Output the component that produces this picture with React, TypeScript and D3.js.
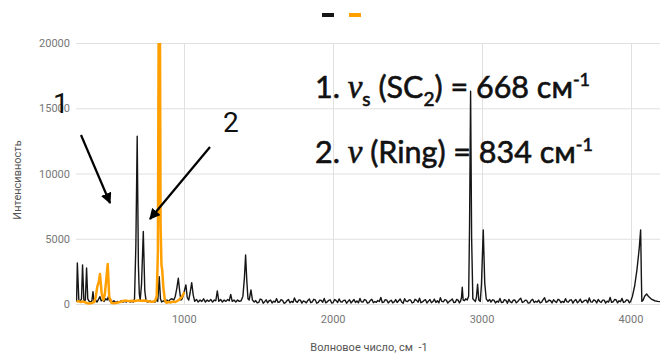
import React, {useRef, useEffect} from 'react'
import * as d3 from 'd3'

const W = 660
const H = 356

const xTicks = [1000, 2000, 3000, 4000]
const yTicks = [0, 5000, 10000, 15000, 20000]
const seriesColors = ['#161616', '#ff9f00']
const xTitle = 'Волновое число, см  -1'
const yTitle = 'Интенсивность'

// black spectrum, [wavenumber, intensity]
const blackLow: [number, number][] = [
  [277, 200], [282, 3150], [292, 300], [300, 200], [310, 400], [317, 3000], [326, 250],
  [336, 300], [344, 2760], [352, 400], [362, 200], [372, 150], [380, 250], [387, 950],
  [394, 200], [404, 300], [414, 150], [424, 350], [434, 560], [442, 250], [452, 300],
  [462, 200], [472, 400], [482, 300], [490, 560], [498, 250], [508, 300], [518, 150],
  [528, 250], [540, 100], [552, 200], [564, 150], [576, 250], [588, 150], [600, 200],
  [612, 150], [624, 250], [636, 150], [648, 200], [658, 150], [666, 400], [675, 4500],
  [684, 12850], [692, 3000], [698, 800], [704, 300], [713, 1500], [725, 5550], [735, 1000],
  [744, 200], [756, 150], [768, 250], [780, 150], [792, 200], [804, 150], [814, 300],
  [822, 200], [832, 2100], [840, 400], [848, 150], [860, 250], [872, 150], [884, 300],
  [896, 200], [906, 350], [918, 400], [930, 300], [940, 600], [950, 1200], [960, 1970],
  [970, 900], [978, 300], [986, 400], [996, 800], [1011, 1460], [1020, 500], [1030, 300],
  [1040, 900], [1050, 1640], [1060, 700], [1070, 200], [1082, 350], [1094, 150], [1106, 300],
  [1118, 200], [1130, 400], [1142, 150], [1154, 300], [1166, 200], [1178, 350], [1190, 150],
  [1202, 300], [1212, 250], [1222, 1000], [1232, 200], [1244, 350], [1256, 150], [1268, 300],
  [1280, 200], [1292, 350], [1302, 250], [1312, 740], [1322, 200], [1334, 300], [1346, 150],
  [1358, 300], [1370, 200], [1382, 250], [1394, 600], [1404, 2000], [1412, 3760], [1420, 1800],
  [1428, 400], [1436, 300], [1448, 1075], [1458, 300], [1470, 150]
]

const blackMid: [number, number][] = [
  [1480, 260], [1490, 90], [1500, 120], [1510, 380], [1520, 340], [1530, 60], [1540, 180],
  [1550, 320], [1560, 90], [1570, 250], [1580, 300], [1590, 80], [1600, 220], [1610, 150],
  [1620, 410], [1630, 120], [1640, 150], [1650, 330], [1660, 280], [1670, 60], [1680, 100],
  [1690, 260], [1700, 350], [1710, 90], [1720, 200], [1730, 120], [1740, 460], [1750, 200],
  [1760, 130], [1770, 310], [1780, 300], [1790, 70], [1800, 240], [1810, 180], [1820, 90],
  [1830, 270], [1840, 380], [1850, 100], [1860, 170], [1870, 360], [1880, 310], [1890, 60],
  [1900, 120], [1910, 300], [1920, 270], [1930, 140], [1940, 430], [1950, 90], [1960, 160],
  [1970, 280], [1980, 320], [1990, 80], [2000, 110], [2010, 350], [2020, 260], [2030, 120],
  [2040, 390], [2050, 170], [2060, 140], [2070, 280], [2080, 300], [2090, 60], [2100, 200],
  [2110, 330], [2120, 80], [2130, 210], [2140, 350], [2150, 110], [2160, 230], [2170, 90],
  [2180, 420], [2190, 160], [2200, 150], [2210, 340], [2220, 290], [2230, 70], [2240, 110],
  [2250, 280], [2260, 360], [2270, 100], [2280, 190], [2290, 130], [2300, 270], [2310, 190],
  [2320, 500], [2330, 110], [2340, 140], [2350, 330], [2360, 300], [2370, 80], [2380, 210],
  [2390, 290], [2400, 90], [2410, 160], [2420, 340], [2430, 120], [2440, 250], [2450, 380],
  [2460, 150], [2470, 60], [2480, 400], [2490, 210], [2500, 180], [2510, 320], [2520, 310],
  [2530, 90], [2540, 120], [2550, 360], [2560, 280], [2570, 140], [2580, 440], [2590, 100],
  [2600, 160], [2610, 270], [2620, 330], [2630, 80], [2640, 220], [2650, 340], [2660, 100],
  [2670, 190], [2680, 370], [2690, 120], [2700, 250], [2710, 90], [2720, 480], [2730, 200],
  [2740, 170], [2750, 330], [2760, 300], [2770, 70], [2780, 200], [2790, 280], [2800, 390],
  [2810, 110], [2820, 130], [2830, 350], [2840, 280]
]

const blackHigh: [number, number][] = [
  [2848, 90], [2855, 200], [2862, 500], [2867, 1280], [2873, 300], [2882, 250], [2890, 400],
  [2900, 300], [2910, 600], [2916, 6000], [2923, 16300], [2930, 5000], [2938, 400], [2946, 300],
  [2955, 200], [2962, 500], [2970, 1510], [2978, 300], [2988, 200], [2996, 1500], [3008, 5680],
  [3018, 1600], [3028, 400], [3040, 200], [3050, 350], [3060, 150], [3070, 320], [3080, 300],
  [3090, 80], [3100, 220], [3110, 140], [3120, 420], [3130, 110], [3140, 130], [3150, 330],
  [3160, 280], [3170, 60], [3180, 350], [3190, 170], [3200, 100], [3210, 290], [3220, 310],
  [3230, 90], [3240, 190], [3250, 340], [3260, 440], [3270, 120], [3280, 160], [3290, 300],
  [3300, 270], [3310, 70], [3320, 90], [3330, 280], [3340, 360], [3350, 110], [3360, 210],
  [3370, 150], [3380, 300], [3390, 90], [3400, 140], [3410, 330], [3420, 480], [3430, 130],
  [3440, 180], [3450, 300], [3460, 250], [3470, 80], [3480, 330], [3490, 200], [3500, 110],
  [3510, 360], [3520, 290], [3530, 100], [3540, 200], [3550, 120], [3560, 410], [3570, 170],
  [3580, 150], [3590, 310], [3600, 320], [3610, 70], [3620, 240], [3630, 350], [3640, 90],
  [3650, 200], [3660, 370], [3670, 110], [3680, 180], [3690, 280], [3700, 300], [3710, 90],
  [3720, 460], [3730, 160], [3740, 140], [3750, 320], [3760, 260], [3770, 80], [3780, 350],
  [3790, 190], [3800, 120], [3810, 300], [3820, 300], [3830, 70], [3840, 220], [3850, 150],
  [3860, 500], [3870, 130], [3880, 170], [3890, 340], [3900, 330], [3910, 90], [3920, 250],
  [3930, 180], [3940, 430], [3950, 120], [3960, 160], [3970, 320], [3980, 300], [3990, 90],
  [3998, 200], [4010, 600], [4025, 1400], [4040, 2600], [4055, 4200], [4065, 5680],
  [4070, 2000], [4073, 200], [4082, 300], [4092, 600], [4105, 770], [4120, 550], [4140, 350],
  [4160, 250], [4180, 200], [4199, 180]
]

// orange spectrum
const orange: [number, number][] = [
  [277, 180], [290, 220], [305, 150], [320, 200], [335, 120], [350, 60], [365, 40],
  [380, 90], [395, 150], [405, 500], [416, 1330], [426, 1700], [434, 2300], [445, 850],
  [456, 300], [466, 700], [474, 1600], [486, 3070], [496, 560], [512, 80], [530, 60],
  [548, 100], [568, 150], [590, 230], [610, 260], [630, 220], [650, 250], [670, 230],
  [690, 280], [710, 240], [730, 260], [750, 230], [770, 200], [790, 180], [805, 250],
  [815, 600], [823, 4000], [829, 24000], [836, 24000], [841, 6000], [847, 3000], [852, 2600],
  [860, 1200], [870, 300], [880, 100], [895, 150], [910, 120], [925, 180], [940, 150],
  [955, 250], [968, 350], [980, 480], [992, 700], [1000, 920]
]

export default function App() {
  const svgRef = useRef<SVGSVGElement>(null)

  useEffect(() => {
    const svg = d3.select(svgRef.current)
    svg.selectAll('*').remove()

    const x = d3.scaleLinear().domain([273, 4195]).range([76, 660])
    const y = d3.scaleLinear().domain([0, 20000]).range([304, 43])

    svg.append('rect').attr('width', W).attr('height', H).attr('fill', '#fff')

    // grid
    const grid = svg.append('g')
    grid
      .selectAll('line.h')
      .data(yTicks)
      .enter()
      .append('line')
      .attr('x1', 76)
      .attr('x2', 660)
      .attr('y1', d => y(d) + 0.5)
      .attr('y2', d => y(d) + 0.5)
      .attr('stroke', '#e0e0e0')
    grid
      .selectAll('line.v')
      .data(xTicks)
      .enter()
      .append('line')
      .attr('x1', d => Math.round(x(d)) + 0.5)
      .attr('x2', d => Math.round(x(d)) + 0.5)
      .attr('y1', 43)
      .attr('y2', 304)
      .attr('stroke', '#e0e0e0')

    // tick labels
    svg
      .append('g')
      .selectAll('text')
      .data(yTicks)
      .enter()
      .append('text')
      .attr('x', 70)
      .attr('y', d => y(d) + 4)
      .attr('text-anchor', 'end')
      .style('font', '11px Roboto')
      .attr('fill', '#777')
      .text(d => d)
    svg
      .append('g')
      .selectAll('text')
      .data(xTicks)
      .enter()
      .append('text')
      .attr('x', d => x(d))
      .attr('y', 322.5)
      .attr('text-anchor', 'middle')
      .style('font', '11px Roboto')
      .attr('fill', '#777')
      .text(d => d)

    svg
      .append('text')
      .attr('x', 369)
      .attr('y', 351)
      .attr('text-anchor', 'middle')
      .style('font', '11px Roboto')
      .style('white-space', 'pre')
      .attr('fill', '#555')
      .text(xTitle)
    svg
      .append('text')
      .attr('transform', 'translate(21,180) rotate(-90)')
      .attr('text-anchor', 'middle')
      .style('font', '11px Roboto')
      .attr('fill', '#555')
      .text(yTitle)

    // legend
    svg.append('rect').attr('x', 322).attr('y', 13).attr('width', 12).attr('height', 4).attr('fill', seriesColors[0])
    svg.append('rect').attr('x', 349).attr('y', 13).attr('width', 12).attr('height', 4).attr('fill', seriesColors[1])

    // series
    svg
      .append('clipPath')
      .attr('id', 'plot-clip')
      .append('rect')
      .attr('x', 76)
      .attr('y', 43)
      .attr('width', 584)
      .attr('height', 264)
    const line = d3
      .line<[number, number]>()
      .x(d => x(d[0]))
      .y(d => y(d[1]))
    const plot = svg.append('g').attr('clip-path', 'url(#plot-clip)')
    plot
      .append('path')
      .attr('d', line([...blackLow, ...blackMid, ...blackHigh]))
      .attr('fill', 'none')
      .attr('stroke', seriesColors[0])
      .attr('stroke-width', 1.4)
      .attr('stroke-linejoin', 'round')
    plot
      .append('path')
      .attr('d', line(orange))
      .attr('fill', 'none')
      .attr('stroke', seriesColors[1])
      .attr('stroke-width', 2.5)
      .attr('stroke-linejoin', 'round')

    // annotations
    const addFormula = (yy: number, num: string, sub: string | null, rest: string) => {
      const t = svg
        .append('text')
        .attr('x', 315)
        .attr('y', yy)
        .style('font-family', 'Lato')
        .style('font-weight', 'normal')
        .style('font-size', '30.5px')
        .attr('fill', '#111')
        .attr('stroke', '#111')
        .attr('stroke-width', 0.6)
      t.append('tspan').text(num + ' ')
      t.append('tspan')
        .style('font-family', 'Liberation Serif')
        .style('font-style', 'italic')
        .style('font-size', '33px')
        .text('ν')
      if (sub) {
        t.append('tspan').attr('dy', 8).style('font-size', '19px').text(sub)
        t.append('tspan').attr('dy', -8).text(' (SC')
        t.append('tspan').attr('dy', 8).style('font-size', '19px').text('2')
        t.append('tspan').attr('dy', -8).text(rest)
      } else {
        t.append('tspan').text(rest)
      }
      t.append('tspan').attr('dy', -12).style('font-size', '18px').text('-1')
    }
    addFormula(98, '1.', 's', ') = 668 см')
    addFormula(163, '2.', null, ' (Ring) = 834 см')

    svg.append('defs')
      .append('marker')
      .attr('id', 'arrowhead')
      .attr('viewBox', '0 0 10 10')
      .attr('refX', 9)
      .attr('refY', 5)
      .attr('markerWidth', 5)
      .attr('markerHeight', 5)
      .attr('orient', 'auto')
      .append('path')
      .attr('d', 'M0,0L10,5L0,10z')
      .attr('fill', '#000')

    const arrows = [
      [81, 135, 110, 203],
      [210, 147, 150, 219]
    ]
    svg
      .append('g')
      .selectAll('line')
      .data(arrows)
      .enter()
      .append('line')
      .attr('x1', d => d[0])
      .attr('y1', d => d[1])
      .attr('x2', d => d[2])
      .attr('y2', d => d[3])
      .attr('stroke', '#000')
      .attr('stroke-width', 2.2)
      .attr('marker-end', 'url(#arrowhead)')

    svg.append('text').attr('x', 53).attr('y', 113).style('font', '28px Roboto').attr('fill', '#111').text('1')
    svg.append('text').attr('x', 223).attr('y', 132).style('font', '28px Roboto').attr('fill', '#111').text('2')
  }, [])

  return (
    <svg
      ref={svgRef}
      width={W}
      height={H}
      style={{position: 'absolute', left: 0, top: 0}}
    />
  )
}
